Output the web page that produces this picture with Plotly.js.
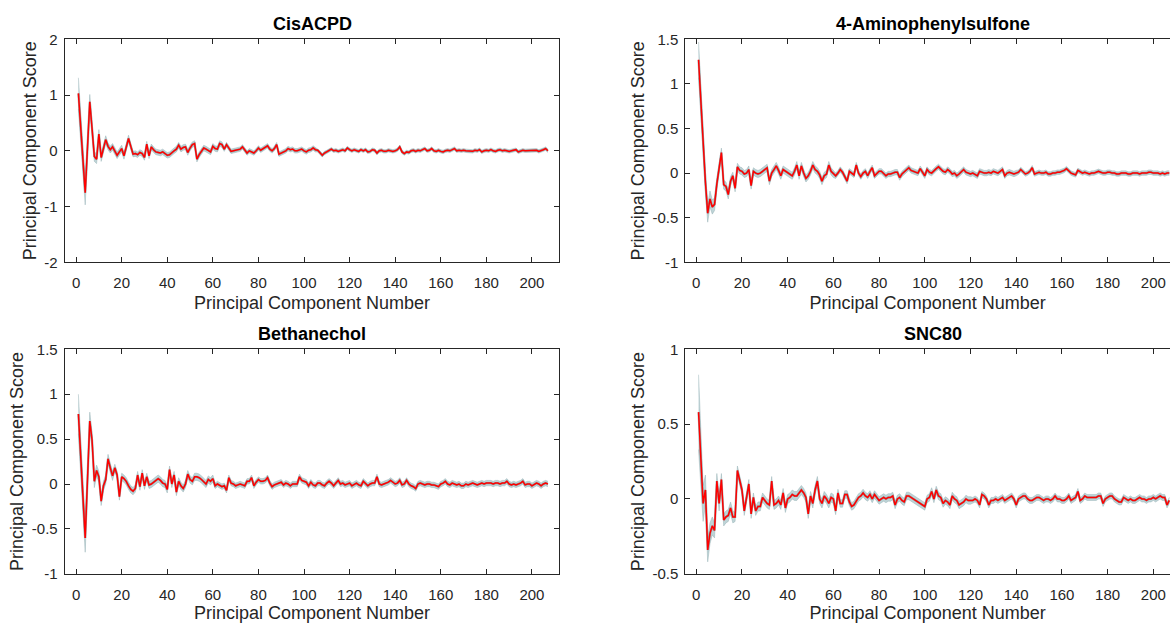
<!DOCTYPE html>
<html>
<head>
<meta charset="utf-8">
<script src="https://cdn.plot.ly/plotly-3.0.1.min.js"></script>
<style>html,body{margin:0;padding:0;background:#fff;}#chart{width:1170px;height:623px;}</style>
</head>
<body>
<div id="chart"></div>
<script>
// ---------- data ----------
const panelTitles = ["CisACPD", "4-Aminophenylsulfone", "Bethanechol", "SNC80"];
const xTickVals = [0, 20, 40, 60, 80, 100, 120, 140, 160, 180, 200];
const xTickText = ["0", "20", "40", "60", "80", "100", "120", "140", "160", "180", "200"];
const yTickValsA = [-2, -1, 0, 1, 2];
const yTickTextA = ["-2", "-1", "0", "1", "2"];
const yTickValsB = [-1, -0.5, 0, 0.5, 1, 1.5];
const yTickTextB = ["-1", "-0.5", "0", "0.5", "1", "1.5"];
const yTickValsD = [-0.5, 0, 0.5, 1];
const yTickTextD = ["-0.5", "0", "0.5", "1"];

const cisACPD = [
1.03,0.45,-0.2,-0.75,0.06,0.88,0.4,-0.1,-0.15,0.3,-0.12,0.05,0.2,0.08,0.02,0.07,0.0,-0.08,-0.02,0.04,
-0.09,0.05,0.22,0.08,-0.06,-0.05,-0.07,-0.03,-0.05,-0.12,0.12,-0.09,0.07,0.02,-0.02,-0.03,-0.04,-0.02,-0.05,-0.08,
-0.07,-0.03,0.0,0.03,0.1,0.03,0.06,0.07,-0.03,0.05,0.11,0.13,-0.15,-0.07,-0.02,0.05,0.03,0.01,-0.02,0.08,
0.04,0.03,0.13,0.11,0.03,0.11,0.04,-0.01,0.0,0.01,0.02,0.03,0.07,0.01,-0.04,0.0,-0.02,-0.04,0.0,0.05,
0.01,0.04,0.07,0.09,0.03,0.0,0.04,0.11,-0.06,-0.04,-0.03,0.0,0.04,0.02,0.03,0.0,0.0,0.02,0.03,0.0,
-0.02,0.01,0.02,0.05,0.02,0.01,-0.03,-0.08,-0.04,-0.02,0.01,0.03,0.0,0.01,-0.01,0.01,0.02,0.0,0.05,0.02,
0.0,0.02,0.01,-0.01,0.02,0.0,0.02,-0.02,-0.01,0.02,0.01,-0.04,0.0,0.01,-0.01,-0.01,0.01,0.0,-0.01,0.0,
0.02,0.07,-0.02,-0.05,-0.02,-0.03,0.0,0.01,-0.01,0.01,0.0,0.02,0.04,0.0,0.01,0.04,0.0,-0.01,0.01,-0.01,
-0.02,0.0,0.01,0.0,0.02,0.04,0.0,0.01,0.0,0.01,0.0,0.0,-0.01,-0.01,0.01,0.0,0.02,-0.02,0.0,0.01,
0.0,0.02,0.0,-0.01,0.01,0.02,0.0,0.01,0.0,-0.01,0.0,0.01,0.02,-0.02,0.0,0.01,0.0,0.0,0.0,0.01,
0.0,0.01,-0.01,0.0,0.02,0.04,0.0];
const semCisACPD = [
0.28,0.22,0.2,0.22,0.16,0.13,0.11,0.09,0.08,0.08,0.07,0.07,0.07,0.06,0.06,0.06,0.06,0.06,0.06,0.06,
0.06,0.06,0.06,0.05,0.05,0.05,0.05,0.05,0.05,0.05,0.05,0.05,0.05,0.05,0.05,0.05,0.05,0.05,0.05,0.05,
0.05,0.05,0.05,0.05,0.05,0.05,0.05,0.05,0.05,0.05,0.05,0.05,0.05,0.05,0.05,0.05,0.05,0.05,0.05,0.05,
0.05,0.05,0.05,0.05,0.04,0.04,0.04,0.04,0.04,0.04,0.04,0.04,0.04,0.04,0.04,0.04,0.04,0.04,0.04,0.04,
0.04,0.04,0.04,0.04,0.04,0.04,0.04,0.04,0.04,0.04,0.04,0.04,0.04,0.04,0.04,0.04,0.04,0.04,0.04,0.04,
0.04,0.04,0.04,0.04,0.04,0.03,0.03,0.03,0.03,0.03,0.03,0.03,0.03,0.03,0.03,0.03,0.03,0.03,0.03,0.03,
0.03,0.03,0.03,0.03,0.03,0.03,0.03,0.03,0.03,0.03,0.03,0.03,0.03,0.03,0.03,0.03,0.03,0.03,0.03,0.03,
0.03,0.03,0.03,0.03,0.03,0.03,0.03,0.03,0.03,0.03,0.03,0.03,0.03,0.03,0.03,0.03,0.03,0.03,0.03,0.03,
0.03,0.03,0.03,0.03,0.03,0.03,0.03,0.03,0.03,0.03,0.03,0.03,0.03,0.03,0.03,0.03,0.03,0.03,0.03,0.03,
0.03,0.03,0.03,0.03,0.03,0.03,0.03,0.03,0.03,0.03,0.03,0.03,0.03,0.03,0.03,0.03,0.03,0.03,0.03,0.03,
0.03,0.03,0.03,0.03,0.03,0.03,0.03];

const aminophenylsulfone = [
1.27,0.78,0.25,-0.1,-0.45,-0.29,-0.38,-0.35,-0.12,0.08,0.23,-0.13,-0.15,-0.24,-0.09,-0.03,-0.17,0.07,0.03,0.02,
-0.01,0.0,0.04,-0.14,0.02,0.0,-0.01,0.0,0.02,0.04,0.06,-0.09,0.0,0.04,0.08,0.03,-0.03,0.04,0.02,0.0,
-0.01,-0.03,0.02,0.09,-0.03,0.08,0.0,-0.06,-0.03,0.02,0.09,0.04,0.02,-0.02,-0.09,-0.03,-0.01,0.09,0.02,-0.01,
-0.03,0.0,0.04,0.01,-0.05,-0.09,0.02,0.0,-0.02,0.09,0.0,-0.04,0.0,0.02,-0.03,0.02,0.06,-0.03,0.0,0.02,
0.02,-0.01,-0.03,-0.01,-0.01,0.0,0.01,0.01,-0.05,-0.01,0.01,0.03,0.06,0.03,0.02,0.01,0.0,0.05,0.01,-0.03,
0.04,0.01,0.0,0.03,0.05,0.07,0.04,0.02,0.01,0.04,0.02,-0.01,0.0,-0.03,-0.01,0.02,0.04,0.01,0.0,-0.01,
0.0,-0.02,-0.03,0.02,0.01,0.0,0.0,0.01,0.0,0.02,0.01,0.0,0.02,0.04,-0.03,0.0,0.01,0.0,-0.01,0.0,
0.01,0.04,0.01,-0.01,0.0,0.02,0.06,-0.01,0.0,0.01,0.0,0.0,0.01,-0.01,-0.01,0.0,0.0,0.01,0.01,0.02,
0.03,0.05,0.02,0.0,-0.01,-0.02,0.03,0.01,0.0,0.01,0.0,-0.01,0.0,0.0,0.01,0.02,0.01,0.0,0.0,0.01,
0.01,0.0,0.0,-0.01,-0.01,0.0,0.0,0.0,-0.01,-0.01,0.0,0.0,0.0,-0.01,0.0,0.0,0.0,0.01,0.01,0.0,
0.0,0.0,-0.01,0.0,-0.01,0.0,0.0];
const semAminophenylsulfone = [
0.2,0.16,0.14,0.12,0.1,0.09,0.08,0.07,0.06,0.06,0.05,0.05,0.05,0.05,0.05,0.04,0.04,0.04,0.04,0.04,
0.04,0.04,0.04,0.04,0.04,0.04,0.04,0.04,0.04,0.04,0.04,0.04,0.04,0.04,0.04,0.04,0.04,0.04,0.04,0.04,
0.04,0.04,0.04,0.04,0.04,0.04,0.04,0.04,0.04,0.04,0.04,0.04,0.04,0.04,0.04,0.04,0.04,0.04,0.04,0.04,
0.03,0.03,0.03,0.03,0.03,0.03,0.03,0.03,0.03,0.03,0.03,0.03,0.03,0.03,0.03,0.03,0.03,0.03,0.03,0.03,
0.03,0.03,0.03,0.03,0.03,0.03,0.03,0.03,0.03,0.03,0.03,0.03,0.03,0.03,0.03,0.03,0.03,0.03,0.03,0.03,
0.03,0.03,0.03,0.03,0.03,0.03,0.03,0.03,0.03,0.03,0.03,0.03,0.03,0.03,0.03,0.03,0.03,0.03,0.03,0.03,
0.03,0.03,0.03,0.03,0.03,0.03,0.03,0.03,0.03,0.03,0.03,0.03,0.03,0.03,0.03,0.03,0.03,0.03,0.03,0.03,
0.025,0.025,0.025,0.025,0.025,0.025,0.025,0.025,0.025,0.025,0.025,0.025,0.025,0.025,0.025,0.025,0.025,0.025,0.025,0.025,
0.025,0.025,0.025,0.025,0.025,0.025,0.025,0.025,0.025,0.025,0.025,0.025,0.025,0.025,0.025,0.025,0.025,0.025,0.025,0.025,
0.025,0.025,0.025,0.025,0.025,0.025,0.025,0.025,0.025,0.025,0.025,0.025,0.025,0.025,0.025,0.025,0.025,0.025,0.025,0.025,
0.025,0.025,0.025,0.025,0.025,0.025,0.025];

const bethanechol = [
0.78,0.3,-0.15,-0.6,0.05,0.7,0.49,0.03,0.15,0.08,-0.19,-0.02,0.05,0.28,0.18,0.09,0.18,0.1,-0.14,0.08,
0.06,0.03,-0.02,-0.06,-0.08,-0.05,0.1,-0.03,0.12,-0.02,0.08,-0.01,0.0,0.02,0.03,0.06,0.04,0.01,0.0,-0.06,
0.16,0.0,0.1,-0.09,0.03,-0.02,-0.05,0.0,0.11,0.05,0.03,0.08,0.08,0.07,0.05,0.02,0.0,0.05,0.03,0.06,
-0.02,0.0,-0.02,-0.03,-0.02,-0.07,0.07,0.01,0.0,-0.02,-0.01,0.0,-0.01,-0.02,0.03,0.03,0.07,-0.02,0.02,0.05,
0.03,0.03,0.04,0.07,0.01,-0.03,-0.01,0.0,0.01,0.02,-0.01,0.01,0.0,-0.02,0.0,0.0,0.0,0.08,0.04,0.03,
0.02,-0.02,0.02,-0.01,-0.02,0.01,0.01,-0.01,-0.02,0.01,0.03,0.01,-0.02,0.01,0.04,0.0,0.01,-0.01,0.0,0.01,
-0.02,0.0,0.01,-0.01,-0.02,0.03,0.0,-0.02,0.0,0.01,0.01,0.08,0.0,-0.01,0.0,0.01,0.02,0.04,0.02,0.0,
0.01,0.04,-0.01,0.0,0.04,0.0,-0.02,-0.03,-0.05,0.0,0.01,0.0,-0.01,0.0,0.0,-0.01,-0.01,-0.02,-0.03,0.0,
0.01,0.03,0.0,-0.01,0.01,0.0,-0.01,0.0,-0.02,-0.02,0.0,-0.01,0.0,0.01,0.0,-0.01,0.0,0.01,0.0,0.01,
0.01,0.01,0.0,0.01,0.01,0.0,0.01,0.01,0.03,0.0,-0.01,0.0,-0.01,0.0,0.01,0.03,-0.01,0.0,0.0,-0.02,
0.0,0.01,0.0,-0.02,0.0,0.01,0.0];
const semBethanechol = [
0.22,0.18,0.15,0.16,0.12,0.1,0.08,0.07,0.06,0.06,0.05,0.05,0.05,0.05,0.05,0.05,0.04,0.04,0.04,0.04,
0.04,0.04,0.04,0.04,0.04,0.04,0.04,0.04,0.04,0.04,0.04,0.04,0.04,0.04,0.04,0.04,0.04,0.04,0.04,0.04,
0.04,0.04,0.04,0.04,0.04,0.04,0.04,0.04,0.04,0.04,0.04,0.04,0.04,0.04,0.04,0.04,0.04,0.04,0.04,0.04,
0.03,0.03,0.03,0.03,0.03,0.03,0.03,0.03,0.03,0.03,0.03,0.03,0.03,0.03,0.03,0.03,0.03,0.03,0.03,0.03,
0.03,0.03,0.03,0.03,0.03,0.03,0.03,0.03,0.03,0.03,0.03,0.03,0.03,0.03,0.03,0.03,0.03,0.03,0.03,0.03,
0.03,0.03,0.03,0.03,0.03,0.03,0.03,0.03,0.03,0.03,0.03,0.03,0.03,0.03,0.03,0.03,0.03,0.03,0.03,0.03,
0.03,0.03,0.03,0.03,0.03,0.03,0.03,0.03,0.03,0.03,0.03,0.03,0.03,0.03,0.03,0.03,0.03,0.03,0.03,0.03,
0.03,0.03,0.03,0.03,0.03,0.03,0.03,0.03,0.03,0.03,0.03,0.03,0.03,0.03,0.03,0.03,0.03,0.03,0.03,0.03,
0.03,0.03,0.03,0.03,0.03,0.03,0.03,0.03,0.03,0.03,0.03,0.03,0.03,0.03,0.03,0.03,0.03,0.03,0.03,0.03,
0.03,0.03,0.03,0.03,0.03,0.03,0.03,0.03,0.03,0.03,0.03,0.03,0.03,0.03,0.03,0.03,0.03,0.03,0.03,0.03,
0.03,0.03,0.03,0.03,0.03,0.03,0.03];

const snc80 = [
0.58,0.28,-0.03,0.06,-0.34,-0.23,-0.18,-0.21,0.12,-0.03,0.13,-0.14,-0.12,-0.11,-0.06,-0.12,-0.12,0.19,0.12,0.06,
-0.08,0.02,0.1,-0.1,0.01,-0.08,-0.05,-0.05,0.01,-0.01,-0.03,-0.04,0.12,-0.04,-0.03,-0.01,-0.04,0.04,-0.06,0.0,
0.01,0.03,0.02,0.02,0.04,0.06,0.04,0.01,-0.1,0.02,-0.03,0.06,0.12,0.0,-0.03,0.02,0.0,-0.03,0.01,0.0,
-0.08,0.04,-0.03,-0.03,0.03,0.03,-0.02,-0.05,-0.04,-0.01,0.01,0.02,0.04,0.02,0.01,0.03,0.0,0.03,0.01,-0.01,
0.0,0.01,0.0,0.01,0.01,0.02,-0.04,0.0,0.01,-0.01,-0.02,0.02,0.02,0.01,0.0,-0.01,-0.02,-0.03,-0.04,-0.05,
0.0,0.01,0.05,0.0,0.06,0.02,0.01,-0.03,-0.01,-0.02,-0.04,0.02,0.0,-0.01,-0.04,-0.03,-0.02,0.0,-0.01,-0.01,
-0.01,0.0,-0.01,-0.04,0.03,0.02,0.0,-0.04,-0.01,-0.01,0.0,-0.01,0.0,0.01,-0.01,0.0,0.01,0.02,0.0,-0.04,
0.0,0.01,0.02,0.02,0.0,-0.01,-0.01,0.0,0.01,0.01,0.0,-0.01,0.0,0.0,-0.01,0.0,0.02,0.0,0.0,-0.01,
-0.01,0.0,0.02,-0.01,0.0,0.01,0.05,-0.01,0.0,0.02,0.01,0.01,0.01,0.01,0.01,0.02,0.02,-0.03,0.0,0.01,
0.02,0.02,0.0,-0.01,-0.02,-0.02,0.01,0.0,-0.01,0.0,-0.01,-0.01,0.0,0.01,0.0,0.0,-0.01,0.0,0.0,0.01,
0.0,0.01,0.02,0.01,0.01,-0.04,-0.01];
const semSnc80 = [
0.25,0.2,0.12,0.1,0.08,0.07,0.06,0.05,0.05,0.05,0.04,0.04,0.04,0.04,0.04,0.04,0.03,0.03,0.03,0.03,
0.03,0.03,0.03,0.03,0.03,0.03,0.03,0.03,0.03,0.03,0.03,0.03,0.03,0.03,0.03,0.03,0.03,0.03,0.03,0.03,
0.03,0.03,0.03,0.03,0.03,0.03,0.03,0.03,0.03,0.03,0.03,0.03,0.03,0.03,0.03,0.03,0.03,0.03,0.03,0.03,
0.025,0.025,0.025,0.025,0.025,0.025,0.025,0.025,0.025,0.025,0.025,0.025,0.025,0.025,0.025,0.025,0.025,0.025,0.025,0.025,
0.025,0.025,0.025,0.025,0.025,0.025,0.025,0.025,0.025,0.025,0.025,0.025,0.025,0.025,0.025,0.025,0.025,0.025,0.025,0.025,
0.025,0.025,0.025,0.025,0.025,0.025,0.025,0.025,0.025,0.025,0.025,0.025,0.025,0.025,0.025,0.025,0.025,0.025,0.025,0.025,
0.02,0.02,0.02,0.02,0.02,0.02,0.02,0.02,0.02,0.02,0.02,0.02,0.02,0.02,0.02,0.02,0.02,0.02,0.02,0.02,
0.02,0.02,0.02,0.02,0.02,0.02,0.02,0.02,0.02,0.02,0.02,0.02,0.02,0.02,0.02,0.02,0.02,0.02,0.02,0.02,
0.02,0.02,0.02,0.02,0.02,0.02,0.02,0.02,0.02,0.02,0.02,0.02,0.02,0.02,0.02,0.02,0.02,0.02,0.02,0.02,
0.02,0.02,0.02,0.02,0.02,0.02,0.02,0.02,0.02,0.02,0.02,0.02,0.02,0.02,0.02,0.02,0.02,0.02,0.02,0.02,
0.02,0.02,0.02,0.02,0.02,0.02,0.02];

// ---------- build ----------
const W = 1170, H = 623;
const FONT = "Liberation Sans, Arial, Helvetica, sans-serif";
const INK = "#262626";

const panels = [
  {mean: cisACPD, sem: semCisACPD, title: panelTitles[0], px: [64.7, 559.3], py: [39.3, 262.3], xr: [-5, 212], yr: [-2, 2], yv: yTickValsA, yt: yTickTextA, right: false},
  {mean: aminophenylsulfone, sem: semAminophenylsulfone, title: panelTitles[1], px: [685.3, 1170], py: [39.3, 262.3], xr: [-4.8, 207.3], yr: [-1, 1.5], yv: yTickValsB, yt: yTickTextB, right: true},
  {mean: bethanechol, sem: semBethanechol, title: panelTitles[2], px: [64.7, 559.3], py: [349.3, 573.8], xr: [-5, 212], yr: [-1, 1.5], yv: yTickValsB, yt: yTickTextB, right: false},
  {mean: snc80, sem: semSnc80, title: panelTitles[3], px: [685.3, 1170], py: [349.3, 573.8], xr: [-4.8, 207.3], yr: [-0.5, 1], yv: yTickValsD, yt: yTickTextD, right: true}
];

const traces = [];
const layout = {
  width: W, height: H,
  margin: {l: 0, r: 0, t: 0, b: 0, pad: 0},
  paper_bgcolor: "#fff", plot_bgcolor: "#fff",
  showlegend: false,
  font: {family: FONT, color: INK},
  annotations: []
};

panels.forEach((p, i) => {
  const n = i + 1;
  const xa = "x" + (n === 1 ? "" : n), ya = "y" + (n === 1 ? "" : n);
  const xs = p.mean.map((_, k) => k + 1);
  const upper = p.mean.map((v, k) => v + p.sem[k]);
  const lower = p.mean.map((v, k) => v - p.sem[k]);
  traces.push({x: xs, y: upper, xaxis: xa, yaxis: ya, mode: "lines", line: {width: 0.8, color: "rgba(150,178,182,0.6)"}, hoverinfo: "skip"});
  traces.push({x: xs, y: lower, xaxis: xa, yaxis: ya, mode: "lines", line: {width: 0.8, color: "rgba(150,178,182,0.6)"}, fill: "tonexty", fillcolor: "rgba(165,196,200,0.72)", hoverinfo: "skip"});
  traces.push({x: xs, y: p.mean, xaxis: xa, yaxis: ya, mode: "lines", line: {width: 2.3, color: "rgba(90,105,105,0.45)"}, hoverinfo: "skip"});
  traces.push({x: xs, y: p.mean, xaxis: xa, yaxis: ya, mode: "lines", line: {width: 1.5, color: "#ff0000"}, name: p.title});

  const common = {
    showline: true, linecolor: INK, linewidth: 1,
    ticks: "inside", ticklen: 5, tickcolor: INK, tickwidth: 1,
    showgrid: false, zeroline: false, fixedrange: true,
    tickfont: {family: FONT, size: 15, color: INK}
  };
  layout["xaxis" + (n === 1 ? "" : n)] = Object.assign({}, common, {
    domain: [p.px[0] / W, p.px[1] / W], range: p.xr, anchor: ya,
    mirror: "ticks", tickmode: "array", tickvals: xTickVals, ticktext: xTickText,
    ticklabelstandoff: 7,
    title: {text: "Principal Component Number", font: {family: FONT, size: 18, color: INK}, standoff: 6}
  });
  layout["yaxis" + (n === 1 ? "" : n)] = Object.assign({}, common, {
    domain: [1 - p.py[1] / H, 1 - p.py[0] / H], range: p.yr, anchor: xa,
    mirror: p.right ? false : "ticks", tickmode: "array", tickvals: p.yv, ticktext: p.yt,
    ticklabelstandoff: 3,
    title: {text: "Principal Component Score", font: {family: FONT, size: 18, color: INK}, standoff: 3}
  });
  layout.annotations.push({
    text: "<b>" + p.title + "</b>", showarrow: false,
    xref: "paper", yref: "paper",
    x: ((p.px[0] + (p.right ? p.px[0] + 494.6 : p.px[1])) / 2) / W,
    y: 1 - (p.py[0] - 15.5) / H, xanchor: "center", yanchor: "middle",
    font: {family: FONT, size: 18, color: "#000"}
  });
});

Plotly.newPlot("chart", traces, layout, {staticPlot: true, displayModeBar: false});
</script>
</body>
</html>
